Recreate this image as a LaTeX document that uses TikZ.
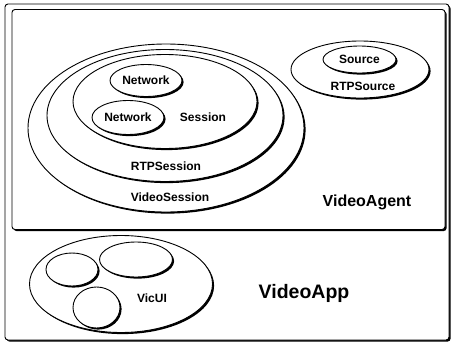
\documentclass[tikz,border=0pt]{standalone}
\usepackage{fontspec}
\setmainfont{Liberation Sans}
\usetikzlibrary{shapes.geometric, shadows}

\begin{document}
\begin{tikzpicture}[x=1pt, y=-1pt,
    blob/.style={ellipse, draw, fill=white, line width=0.9pt, inner sep=0pt,
      drop shadow={shadow xshift=1.6pt, shadow yshift=-1.6pt, fill=black, opacity=1}},
    frame/.style={draw, fill=white, line width=0.9pt, rounded corners=3pt,
      drop shadow={shadow xshift=1.6pt, shadow yshift=-1.6pt, fill=black, opacity=1}},
    lbl/.style={font=\fontsize{12}{13}\selectfont\bfseries, inner sep=0pt},
    big/.style={font=\fontsize{16}{18}\selectfont\bfseries, inner sep=0pt}]

  \useasboundingbox (0,0) rectangle (453,343);

  % application and agent frames
  \node[frame, minimum width=444pt, minimum height=336pt] (app) at (227,172) {};
  \node[frame, minimum width=433pt, minimum height=220pt] (agent) at (228.5,119.5) {};

  % session nesting
  \node[blob, minimum width=276pt, minimum height=168pt] (vsess) at (166,128) {};
  \node[blob, minimum width=236pt, minimum height=132pt] (rtpsess) at (165,115.5) {};
  \node[blob, minimum width=184pt, minimum height=94pt] (sess) at (165,101.5) {};
  \node[blob, lbl, minimum width=72pt, minimum height=32pt] (net1) at (146,80.5) {Network};
  \node[blob, lbl, minimum width=72pt, minimum height=34pt] (net2) at (128,117.5) {Network};
  \node[lbl] (sesslbl) at (203,117) {Session};
  \node[lbl] (rtpsesslbl) at (166,166) {RTPSession};
  \node[lbl] (vsesslbl) at (170,197) {VideoSession};

  % source
  \node[blob, minimum width=138pt, minimum height=57pt] (rtpsrc) at (360,69.5) {};
  \node[blob, lbl, minimum width=73pt, minimum height=27pt] (src) at (359.5,59.5) {Source};
  \node[lbl] (rtpsrclbl) at (363,86) {RTPSource};

  \node[big] (agentlbl) at (367,202) {VideoAgent};

  % user interface
  \node[blob, minimum width=183pt, minimum height=97pt] (vicui) at (121,284) {};
  \node[blob, minimum width=52pt, minimum height=33pt] (ui1) at (72,269.5) {};
  \node[blob, minimum width=73pt, minimum height=35pt] (ui2) at (136,259.5) {};
  \node[blob, minimum width=47pt, minimum height=41pt] (ui3) at (96.5,307.5) {};
  \node[lbl] (vicuilbl) at (152,298) {VicUI};

  \node[big, font=\fontsize{19.5}{21}\selectfont\bfseries] (applbl) at (304,293) {VideoApp};
\end{tikzpicture}
\end{document}
